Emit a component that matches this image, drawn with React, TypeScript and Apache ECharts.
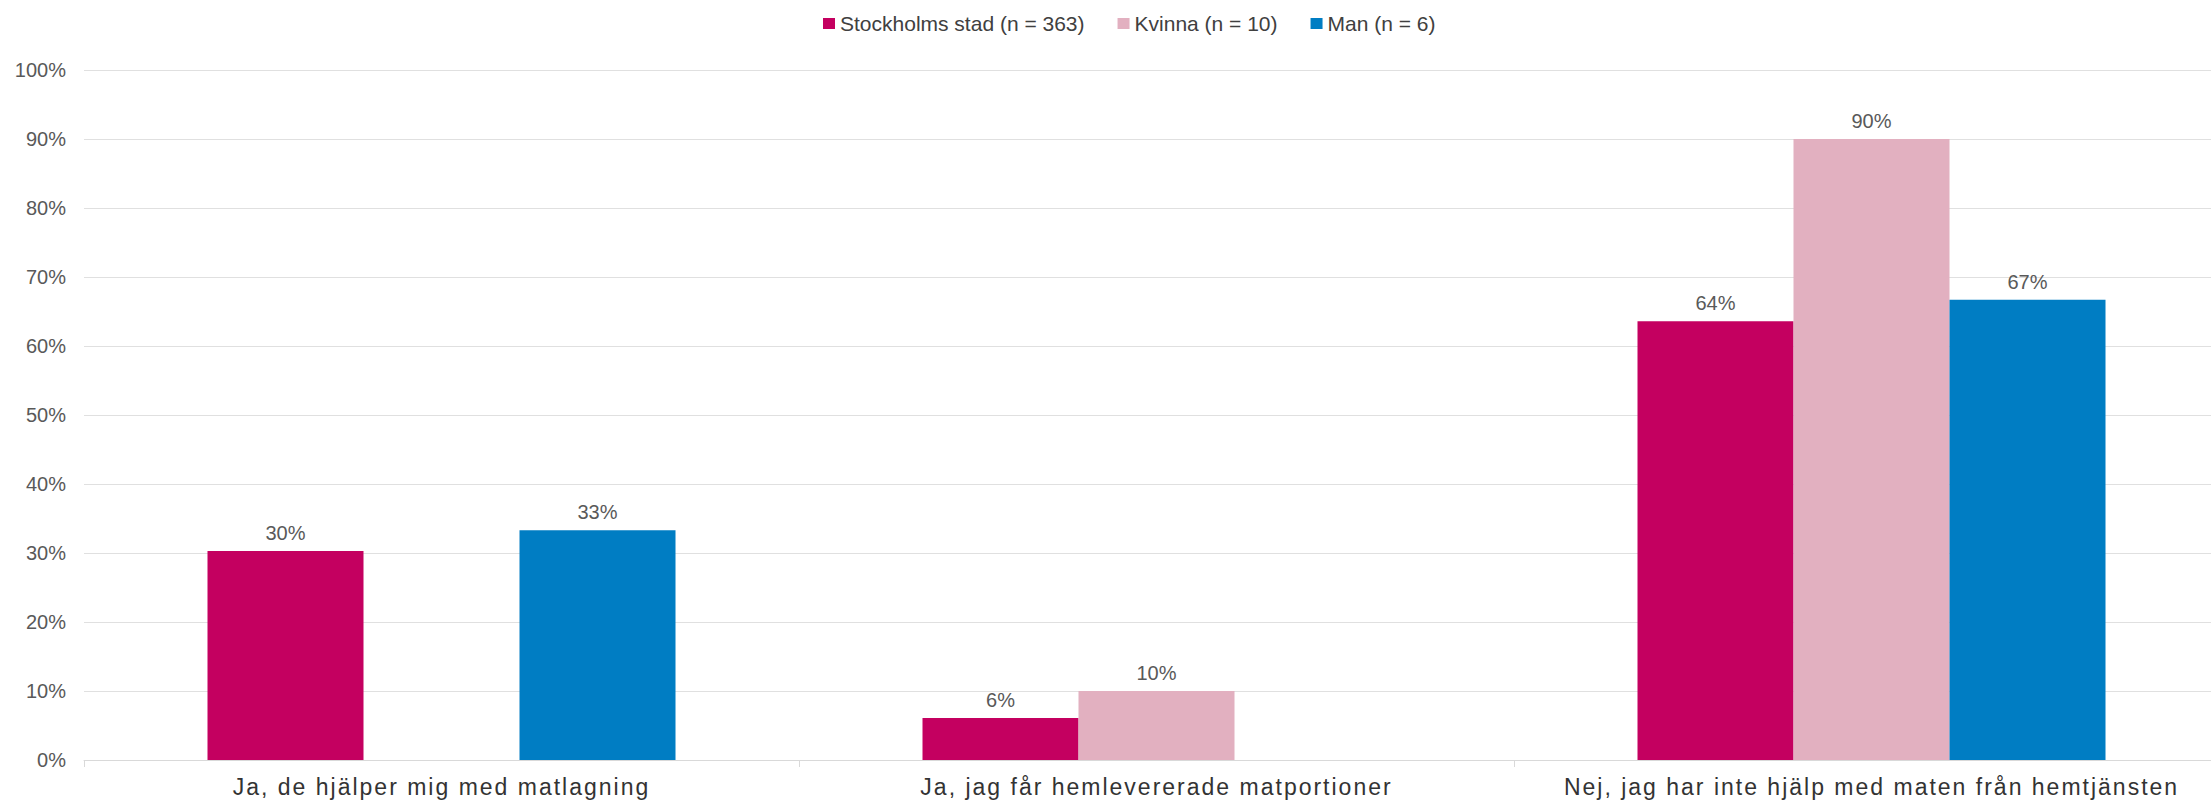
import React, { useEffect, useRef } from "react";
import * as echarts from "echarts";

const categories = [
  "Ja, de hjälper mig med matlagning",
  "Ja, jag får hemlevererade matportioner",
  "Nej, jag har inte hjälp med maten från hemtjänsten",
];
const seriesNames = ["Stockholms stad (n = 363)", "Kvinna (n = 10)", "Man (n = 6)"];
const stockholm = [30.3, 6.1, 63.6];
const kvinna = [null, 10, 90];
const man = [33.3, null, 66.7];
const yTicks = [0, 10, 20, 30, 40, 50, 60, 70, 80, 90, 100];
const colors = ["#C40060", "#E2B0C0", "#007DC3"];

export default function App() {
  const ref = useRef<HTMLDivElement>(null);
  useEffect(() => {
    if (!ref.current) return;
    const chart = echarts.init(ref.current, undefined, { renderer: "svg" });
    const label = {
      show: true,
      position: "top",
      distance: 8,
      color: "#595959",
      fontSize: 20,
      fontFamily: "Liberation Sans, Arial, sans-serif",
      formatter: (p: any) => Math.round(p.value) + "%",
    };
    const mk = (name: string, data: (number | null)[], color: string) => ({
      name,
      type: "bar",
      data,
      barWidth: 156,
      barGap: "0%",
      itemStyle: { color },
      label,
    });
    chart.setOption({
      animation: false,
      textStyle: { fontFamily: "Liberation Sans, Arial, sans-serif" },
      legend: {
        left: 823,
        top: 13,
        padding: 0,
        itemWidth: 12,
        itemHeight: 11,
        itemGap: 33,
        icon: "rect",
        textStyle: { color: "#404040", fontSize: 21 },
        data: seriesNames,
      },
      grid: { left: 84, right: 0, top: 70, bottom: 44, containLabel: false },
      xAxis: {
        type: "category",
        data: categories,
        axisLine: { lineStyle: { color: "#d9d9d9", width: 1 } },
        axisTick: { show: true, length: 7, lineStyle: { color: "#d9d9d9" } },
        axisLabel: { color: "#333333", fontSize: 23, margin: 15, interval: 0 },
      },
      yAxis: {
        type: "value",
        min: yTicks[0],
        max: yTicks[yTicks.length - 1],
        interval: 10,
        axisLine: { show: false },
        axisTick: { show: false },
        splitLine: { lineStyle: { color: "#e0e0e0", width: 1 } },
        axisLabel: { color: "#595959", fontSize: 20, margin: 18, formatter: "{value}%" },
      },
      series: [
        mk(seriesNames[0], stockholm, colors[0]),
        mk(seriesNames[1], kvinna, colors[1]),
        mk(seriesNames[2], man, colors[2]),
      ],
    });
    const applySpacing = () => {
      ref.current?.querySelectorAll("text").forEach((t) => {
        if (categories.includes((t.textContent || "").trim())) {
          t.setAttribute("letter-spacing", "2");
        }
      });
    };
    applySpacing();
    chart.on("finished", applySpacing);
    const tm = setTimeout(applySpacing, 50);
    return () => {
      clearTimeout(tm);
      chart.dispose();
    };
  }, []);
  return (
    <div
      style={{ position: "fixed", left: 0, top: 0, width: 2211, height: 804, overflow: "hidden", background: "#fff" }}
    >
      <div ref={ref} style={{ width: 2229, height: 804 }} />
    </div>
  );
}
